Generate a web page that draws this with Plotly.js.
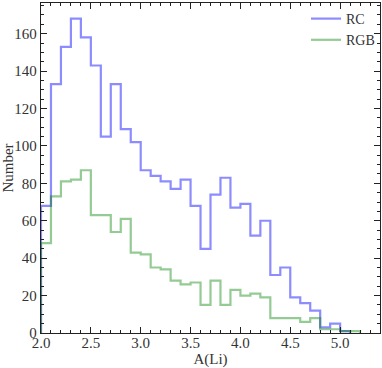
<!DOCTYPE html>
<html>
<head>
<meta charset="utf-8">
<script src="https://cdn.plot.ly/plotly-3.0.1.min.js"></script>
<style>
html, body { margin: 0; padding: 0; background: #fff; }
#chart { width: 382px; height: 368px; }
</style>
</head>
<body>
<div id="chart"></div>
<script>
// histogram bins of A(Li), width 0.1 starting at 2.0
var binStart = 2.0;
var binWidth = 0.1;
var rcCounts = [68, 133, 153, 168, 158, 143, 105, 133, 109, 102, 87, 84, 81, 77, 82, 68,
                45, 74, 83, 67, 69, 52, 60, 31, 35, 19, 16, 12, 3, 5, 1];
var rgbCounts = [48, 73, 81, 82, 87, 63, 63, 54, 61, 43, 42, 35, 34, 28, 26, 27,
                 15, 28, 15, 23, 20, 21, 19, 8, 8, 8, 6, 8, 2, 2, 1, 1];

// step outline like histtype='step'
function stepTrace(counts, name, color) {
    var xs = [binStart], ys = [0];
    for (var i = 0; i < counts.length; i++) {
        xs.push(+(binStart + i * binWidth).toFixed(2));
        ys.push(counts[i]);
    }
    xs.push(+(binStart + counts.length * binWidth).toFixed(2));
    ys.push(0);
    return {
        name: name,
        type: 'scatter',
        mode: 'lines',
        x: xs,
        y: ys,
        line: {shape: 'hv', width: 2.2, color: color},
        hoverinfo: 'skip'
    };
}

var traces = [
    stepTrace(rcCounts, 'RC', 'rgba(0,0,255,0.45)'),
    stepTrace(rgbCounts, 'RGB', 'rgba(0,128,0,0.42)')
];

var serif = 'Liberation Serif, DejaVu Serif, serif';
var axisFont = {family: serif, size: 15, color: '#333'};

var layout = {
    width: 382,
    height: 368,
    margin: {l: 41, r: 2, t: 3, b: 35},
    paper_bgcolor: '#fff',
    plot_bgcolor: '#fff',
    font: axisFont,
    showlegend: true,
    legend: {
        x: 1, xanchor: 'right', y: 1, yanchor: 'top',
        bgcolor: 'rgba(0,0,0,0)',
        font: {family: serif, size: 14, color: '#333'},
        itemwidth: 30,
        tracegroupgap: 0
    },
    xaxis: {
        range: [2.0, 5.4],
        tick0: 2.0,
        dtick: 0.5,
        tickformat: '.1f',
        ticks: 'inside',
        ticklen: 6,
        tickcolor: '#222',
        mirror: 'allticks',
        showline: true,
        linecolor: '#222',
        linewidth: 1.2,
        showgrid: false,
        zeroline: false,
        minor: {dtick: 0.1, ticks: 'inside', ticklen: 3, tickcolor: '#222'},
        tickfont: axisFont,
        ticklabelstandoff: -4,
        automargin: false,
        title: {text: 'A(Li)', font: axisFont, standoff: 3}
    },
    yaxis: {
        range: [0, 176.4],
        tick0: 0,
        dtick: 20,
        ticks: 'inside',
        ticklen: 6,
        tickcolor: '#222',
        mirror: 'allticks',
        showline: true,
        linecolor: '#222',
        linewidth: 1.2,
        showgrid: false,
        zeroline: false,
        minor: {dtick: 5, ticks: 'inside', ticklen: 3, tickcolor: '#222'},
        tickfont: axisFont,
        automargin: false,
        title: {text: 'Number', font: axisFont, standoff: 4}
    }
};

Plotly.newPlot('chart', traces, layout, {displayModeBar: false, staticPlot: true});
</script>
</body>
</html>
